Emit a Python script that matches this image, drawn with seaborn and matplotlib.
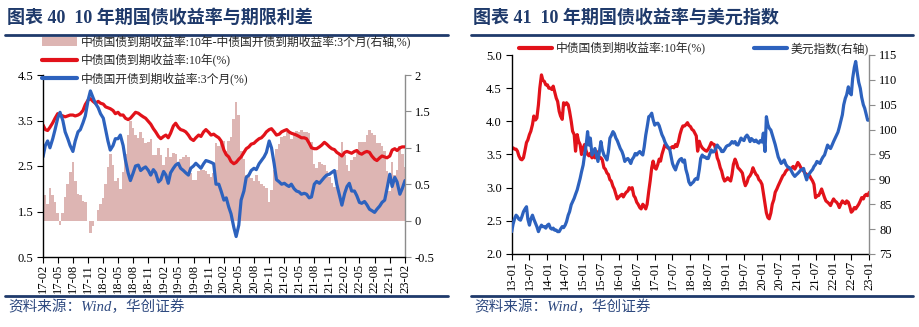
import numpy as np
import pandas as pd
import matplotlib
matplotlib.use("Agg")
import matplotlib.pyplot as plt
from matplotlib.lines import Line2D
from matplotlib.patches import Patch
from matplotlib.ticker import FuncFormatter, MultipleLocator, FixedLocator
from matplotlib.font_manager import FontProperties
import matplotlib.dates as mdates
import seaborn as sns

# ---------------- data: left chart (semi-monthly, 2017-02 .. 2023-02) ----------------
cgb10_left = [
    3.40, 3.30, 3.28, 3.35, 3.45, 3.55, 3.65, 3.62, 3.60, 3.58, 3.60, 3.62, 3.62, 3.60, 3.62, 3.65, 3.72, 3.85, 3.95, 3.98, 3.92, 3.88,
    3.92, 3.88, 3.86, 3.80, 3.78, 3.76, 3.72, 3.65, 3.68, 3.62, 3.62, 3.55, 3.52, 3.55, 3.62, 3.68, 3.66, 3.62, 3.58, 3.55, 3.48, 3.42, 3.32, 3.25,
    3.15, 3.10, 3.15, 3.18, 3.12, 3.22, 3.38, 3.44, 3.35, 3.30, 3.28, 3.25, 3.18, 3.10, 3.06, 3.12, 3.18, 3.15, 3.25, 3.30, 3.24, 3.18, 3.20, 3.16,
    3.12, 3.05, 2.85, 2.75, 2.70, 2.60, 2.55, 2.58, 2.65, 2.70, 2.80, 2.88, 2.92, 2.98, 3.00, 3.05, 3.10, 3.12, 3.18, 3.25, 3.30, 3.32, 3.25, 3.18,
    3.20, 3.25, 3.28, 3.30, 3.25, 3.22, 3.20, 3.18, 3.15, 3.12, 3.12, 3.10, 3.00, 2.90, 2.88, 2.88, 2.92, 2.96, 3.02, 2.98, 2.92, 2.88, 2.86, 2.80,
    2.76, 2.72, 2.80, 2.82, 2.80, 2.78, 2.82, 2.84, 2.78, 2.76, 2.80, 2.82, 2.80, 2.72, 2.65, 2.62, 2.68, 2.72, 2.70, 2.68, 2.72, 2.85, 2.88, 2.84,
    2.90, 2.92, 2.92,
]
cdb3m_left = [
    2.70, 2.95, 3.05, 2.90, 3.10, 3.30, 3.55, 3.68, 3.50, 3.25, 3.10, 2.95, 2.82, 3.05, 3.25, 3.30, 3.45, 3.60, 3.95, 4.15, 4.00, 3.88,
    3.78, 3.65, 3.55, 3.30, 3.05, 2.85, 2.95, 3.10, 3.10, 3.18, 2.95, 2.63, 2.35, 2.18, 2.35, 2.50, 2.52, 2.40, 2.45, 2.48, 2.40, 2.30, 2.42, 2.35,
    2.15, 2.20, 2.38, 2.30, 2.12, 2.35, 2.45, 2.52, 2.56, 2.45, 2.40, 2.35, 2.30, 2.45, 2.50, 2.56, 2.50, 2.45, 2.55, 2.62, 2.60, 2.58, 2.55, 2.10,
    2.10, 1.95, 1.75, 1.80, 1.60, 1.45, 1.15, 0.95, 1.20, 1.75, 1.95, 2.25, 2.30, 2.40, 2.45, 2.42, 2.55, 2.62, 2.70, 2.80, 3.05, 2.90, 2.55, 2.20,
    2.15, 2.10, 2.12, 2.08, 2.05, 2.10, 2.00, 1.95, 1.93, 1.88, 1.90, 1.88, 1.80, 1.82, 2.10, 2.16, 2.12, 2.18, 2.25, 2.30, 2.32, 2.36, 2.40, 2.10,
    1.85, 1.64, 1.90, 2.05, 2.12, 1.95, 1.95, 1.85, 1.70, 1.68, 1.72, 1.65, 1.55, 1.52, 1.48, 1.55, 1.62, 1.70, 1.75, 2.00, 2.32, 2.05, 2.25, 2.15,
    1.88, 2.00, 2.18,
]
left_ticks = ["17-02", "17-05", "17-08", "17-11", "18-02", "18-05", "18-08", "18-11", "19-02", "19-05",
              "19-08", "19-11", "20-02", "20-05", "20-08", "20-11", "21-02", "21-05", "21-08", "21-11",
              "22-02", "22-05", "22-08", "22-11", "23-02"]
left_yticks = [0.5, 1.5, 2.5, 3.5, 4.5]
left_y2ticks = [-0.5, 0, 0.5, 1, 1.5, 2]

# ---------------- data: right chart (semi-monthly, 2013-01 .. 2023-01) ----------------
cgb10_right = [
    3.60, 3.60, 3.58, 3.58, 3.55, 3.48, 3.43, 3.42, 3.45, 3.55, 3.68, 3.72, 3.80, 3.85, 3.95, 4.08, 4.02, 4.05, 4.25, 4.50, 4.70, 4.62, 4.60, 4.55,
    4.55, 4.50, 4.50, 4.48, 4.53, 4.45, 4.35, 4.30, 4.15, 4.08, 4.03, 4.28, 4.25, 4.28, 4.25, 4.15, 4.00, 3.85, 3.80, 3.55, 3.80, 3.70, 3.65, 3.50,
    3.60, 3.65, 3.55, 3.50, 3.48, 3.52, 3.45, 3.50, 3.45, 3.55, 3.50, 3.45, 3.45, 3.42, 3.30, 3.28, 3.22, 3.20, 3.12, 3.10, 3.02, 2.98, 2.90, 2.83,
    2.86, 2.88, 2.90, 2.86, 2.90, 2.93, 2.95, 3.00, 2.98, 3.00, 2.88, 2.85, 2.78, 2.75, 2.70, 2.68, 2.75, 2.72, 2.68, 2.75, 2.95, 3.10, 3.30, 3.40,
    3.30, 3.28, 3.35, 3.43, 3.40, 3.50, 3.58, 3.65, 3.62, 3.60, 3.58, 3.60, 3.62, 3.60, 3.65, 3.62, 3.70, 3.80, 3.88, 3.93, 3.93, 3.95, 3.98, 3.94,
    3.92, 3.88, 3.86, 3.82, 3.78, 3.55, 3.70, 3.64, 3.60, 3.58, 3.56, 3.55, 3.58, 3.62, 3.68, 3.66, 3.65, 3.58, 3.45, 3.40, 3.30, 3.25, 3.15, 3.10,
    3.12, 3.15, 3.12, 3.10, 3.20, 3.35, 3.43, 3.38, 3.30, 3.28, 3.25, 3.22, 3.10, 3.03, 3.08, 3.15, 3.18, 3.22, 3.30, 3.25, 3.20, 3.18, 3.12, 3.10,
    3.05, 2.92, 2.75, 2.62, 2.55, 2.53, 2.62, 2.75, 2.82, 2.93, 2.98, 3.03, 3.08, 3.12, 3.18, 3.20, 3.25, 3.27, 3.30, 3.28, 3.30, 3.32, 3.28, 3.32,
    3.38, 3.35, 3.30, 3.28, 3.25, 3.22, 3.20, 3.18, 3.18, 3.14, 3.10, 3.05, 2.85, 2.88, 2.88, 2.92, 2.98, 2.92, 2.85, 2.80, 2.78, 2.76, 2.73, 2.78,
    2.83, 2.80, 2.78, 2.75, 2.70, 2.75, 2.80, 2.78, 2.76, 2.80, 2.78, 2.72, 2.63, 2.65, 2.70, 2.68, 2.72, 2.75, 2.80, 2.85, 2.83, 2.88, 2.90, 2.88,
    2.93,
]
dxy_right = [
    79.5, 81.0, 82.2, 82.8, 82.5, 82.0, 81.8, 82.5, 83.5, 84.0, 84.5, 82.0, 80.8, 82.0, 82.8, 82.0, 81.2, 80.5, 79.5, 80.2, 80.8, 80.5, 80.5, 80.2,
    80.8, 81.0, 80.2, 80.0, 80.2, 79.8, 79.8, 79.5, 79.5, 80.0, 80.5, 80.3, 80.8, 81.5, 82.8, 83.5, 84.9, 85.5, 86.2, 87.0, 87.9, 89.0, 90.2, 91.5,
    92.9, 94.9, 97.0, 99.6, 96.9, 98.3, 94.9, 95.5, 96.2, 95.0, 93.6, 95.5, 97.6, 96.0, 94.9, 94.5, 93.9, 95.5, 98.3, 98.8, 99.6, 99.2, 98.3, 97.8,
    96.9, 96.2, 95.6, 94.8, 93.6, 94.0, 94.2, 93.8, 93.2, 94.0, 94.5, 95.2, 94.9, 95.3, 95.6, 95.2, 94.9, 96.5, 98.9, 100.5, 102.6, 102.8, 103.3, 102.0,
    100.9, 101.2, 101.3, 100.8, 99.9, 99.0, 98.3, 97.5, 96.9, 96.5, 96.2, 94.8, 93.2, 92.5, 91.9, 92.8, 93.6, 94.0, 94.2, 93.5, 93.9, 92.0, 90.9, 89.5,
    88.9, 89.2, 89.5, 90.0, 90.2, 90.0, 92.0, 94.2, 94.9, 94.5, 94.5, 94.2, 94.2, 95.0, 95.9, 95.5, 95.6, 96.2, 96.9, 96.5, 96.2, 95.6, 95.6, 96.0,
    96.6, 96.8, 96.9, 97.2, 97.6, 97.3, 97.6, 97.0, 96.9, 97.5, 98.3, 98.0, 97.8, 98.5, 98.9, 98.5, 97.6, 98.2, 97.9, 97.6, 97.9, 97.5, 97.3, 97.8,
    97.5, 99.3, 95.6, 102.6, 101.0, 100.3, 99.9, 99.0, 97.9, 97.0, 95.6, 94.5, 93.8, 93.2, 93.5, 93.9, 93.0, 92.6, 92.4, 92.2, 91.5, 91.0, 90.6, 90.9,
    91.2, 91.5, 91.9, 92.0, 92.2, 91.0, 89.9, 90.8, 91.2, 91.6, 92.0, 92.6, 93.0, 93.6, 93.4, 93.2, 94.0, 94.5, 94.9, 95.8, 96.9, 96.5, 96.2, 96.8,
    97.6, 98.2, 98.9, 99.5, 100.5, 101.6, 103.0, 105.0, 106.3, 107.0, 108.6, 107.5, 107.0, 110.3, 112.5, 113.7, 111.3, 109.5, 108.3, 106.5, 105.0, 104.3, 103.0, 101.9,
    101.9,
]
right_ticks = ["13-01", "13-07", "14-01", "14-07", "15-01", "15-07", "16-01", "16-07", "17-01", "17-07",
               "18-01", "18-07", "19-01", "19-07", "20-01", "20-07", "21-01", "21-07", "22-01", "22-07", "23-01"]
right_yticks = [2.0, 2.5, 3.0, 3.5, 4.0, 4.5, 5.0]
right_y2ticks = [75, 80, 85, 90, 95, 100, 105, 110, 115]

labels_left = ["中债国债到期收益率:10年-中债国开债到期收益率:3个月(右轴,%)",
               "中债国债到期收益率:10年(%)",
               "中债国开债到期收益率:3个月(%)"]
labels_right = ["中债国债到期收益率:10年(%)", "美元指数(右轴)"]
titles = ["图表 40  10 年期国债收益率与期限利差", "图表 41  10 年期国债收益率与美元指数"]
source = "资料来源：Wind，华创证券"

# ---------------- style ----------------
sns.set_style("ticks")
plt.rcParams["font.family"] = ["Liberation Serif", "Noto Sans CJK SC"]
plt.rcParams["axes.unicode_minus"] = False

RED = "#E2121A"
BLUE = "#2D62BE"
AREA = "#DDB5B3"
NAVY = "#1F3A6B"
GRAY = "#8C8C8C"
TICK_FS = 9

def semi_monthly(start, end):
    ms = pd.date_range(start, end, freq="MS")
    out = []
    for t in ms:
        out.append(t)
        out.append(t + pd.Timedelta(days=14))
    return out[:-1]

W, H = 920, 327
fig = plt.figure(figsize=(W / 100, H / 100), dpi=100)

def fx(px):
    return px / W

def fy(py):
    return 1 - py / H

# ---------------- left chart ----------------
dl = pd.DataFrame({"date": semi_monthly("2017-02-01", "2023-02-01"),
                   "y10": cgb10_left, "y3m": cdb3m_left})
dl["spread"] = dl["y10"] - dl["y3m"]

axL = fig.add_axes([fx(43), fy(257), fx(362), 182 / H])
axL2 = axL.twinx()
axL2.fill_between(dl["date"], 0, dl["spread"], color=AREA, lw=0, step="mid")
sns.lineplot(data=dl, x="date", y="y10", ax=axL, color=RED, lw=2.3)
sns.lineplot(data=dl, x="date", y="y3m", ax=axL, color=BLUE, lw=2.3)
axL.set_zorder(axL2.get_zorder() + 1)
axL.patch.set_visible(False)

lt = pd.to_datetime(["20" + s + "-01" for s in left_ticks])
axL.set_xlim(lt[0], lt[-1])
axL.set_ylim(0.5, 4.5)
axL2.set_ylim(-0.5, 2.0)
axL.xaxis.set_major_locator(FixedLocator(mdates.date2num(lt)))
axL.set_xticklabels(left_ticks, rotation=90)
axL.yaxis.set_major_locator(FixedLocator(left_yticks))
axL.yaxis.set_major_formatter(FuncFormatter(lambda v, p: f"{v:.1f}"))
axL2.yaxis.set_major_locator(FixedLocator(left_y2ticks))
axL2.yaxis.set_major_formatter(FuncFormatter(lambda v, p: f"{v:g}"))

# ---------------- right chart ----------------
dr = pd.DataFrame({"date": semi_monthly("2013-01-01", "2023-01-01"),
                   "y10": cgb10_right, "dxy": dxy_right})
axR = fig.add_axes([fx(511.7), fy(254), fx(357.6), 199 / H])
axR2 = axR.twinx()
sns.lineplot(data=dr, x="date", y="dxy", ax=axR2, color=BLUE, lw=2.3)
sns.lineplot(data=dr, x="date", y="y10", ax=axR, color=RED, lw=2.3)
rt = pd.to_datetime(["20" + s + "-01" for s in right_ticks])
axR.set_xlim(rt[0], rt[-1])
axR.set_ylim(2.0, 5.0)
axR2.set_ylim(75, 115)
axR.xaxis.set_major_locator(FixedLocator(mdates.date2num(rt)))
axR.set_xticklabels(right_ticks, rotation=90)
axR.yaxis.set_major_locator(FixedLocator(right_yticks))
axR.yaxis.set_major_formatter(FuncFormatter(lambda v, p: f"{v:.1f}"))
axR2.yaxis.set_major_locator(FixedLocator(right_y2ticks))
axR2.yaxis.set_major_formatter(FuncFormatter(lambda v, p: f"{v:g}"))

for a, a2 in [(axL, axL2), (axR, axR2)]:
    a.set_xlabel("")
    a.set_ylabel("")
    a2.set_ylabel("")
    a.spines["top"].set_visible(False)
    a.spines["right"].set_visible(False)
    for s in ["top", "left", "bottom"]:
        a2.spines[s].set_visible(False)
    a.spines["left"].set_color("black")
    a.spines["bottom"].set_color("black")
    a.spines["left"].set_linewidth(1.0)
    a.spines["bottom"].set_linewidth(1.0)
    a2.spines["right"].set_color(GRAY)
    a2.spines["right"].set_linewidth(1.0)
    a.tick_params(axis="x", direction="out", length=4, width=0.8, labelsize=TICK_FS,
                  colors="black", pad=1)
    a.tick_params(axis="y", direction="out", length=4, width=0.8, labelsize=TICK_FS,
                  colors="black", pad=3)
    a2.tick_params(axis="y", direction="out", length=4, width=0.8, labelsize=TICK_FS,
                   color=GRAY, labelcolor="black", pad=3)
    a.grid(False)
    a2.grid(False)

# ---------------- titles, rules, source ----------------
tfont = FontProperties(family=["Liberation Serif", "Noto Sans CJK SC"], weight="bold", size=13)
sfont = FontProperties(family=["Liberation Serif", "Noto Sans CJK SC"], style="italic", size=10.5)
for x0, x1, t in [(5, 448, titles[0]), (471, 913, titles[1])]:
    fig.text(fx(x0 + 2), fy(18), t, color=NAVY, fontproperties=tfont, va="center", ha="left")
    fig.add_artist(Line2D([fx(x0), fx(x1)], [fy(35), fy(35)], color=NAVY, lw=2.0))
    fig.add_artist(Line2D([fx(x0), fx(x1)], [fy(296), fy(296)], color=NAVY, lw=2.0))
    fig.text(fx(x0 + 3), fy(307), source, color="#2F4A80", fontproperties=sfont,
             va="center", ha="left")

# ---------------- legends ----------------
lfont = FontProperties(family=["Liberation Serif", "Noto Sans CJK SC"], size=8.5)
hl = [Patch(facecolor=AREA, edgecolor="none"),
      Line2D([], [], color=RED, lw=3),
      Line2D([], [], color=BLUE, lw=3)]
fig.legend(hl, labels_left, loc="upper left", bbox_to_anchor=(fx(42), fy(36)),
           frameon=False, borderpad=0, borderaxespad=0, handlelength=3.0,
           handleheight=0.8, handletextpad=0.3, labelspacing=0.42, prop=lfont)
fig.legend([Line2D([], [], color=RED, lw=3)], [labels_right[0]], loc="upper left",
           bbox_to_anchor=(fx(519), fy(42)), frameon=False, borderpad=0,
           borderaxespad=0, handlelength=2.8, handletextpad=0.3, prop=lfont)
fig.legend([Line2D([], [], color=BLUE, lw=3)], [labels_right[1]], loc="upper right",
           bbox_to_anchor=(fx(869), fy(42)), frameon=False, borderpad=0,
           borderaxespad=0, handlelength=2.8, handletextpad=0.3, prop=lfont)

fig.savefig("out.png", dpi=100, facecolor="white")
